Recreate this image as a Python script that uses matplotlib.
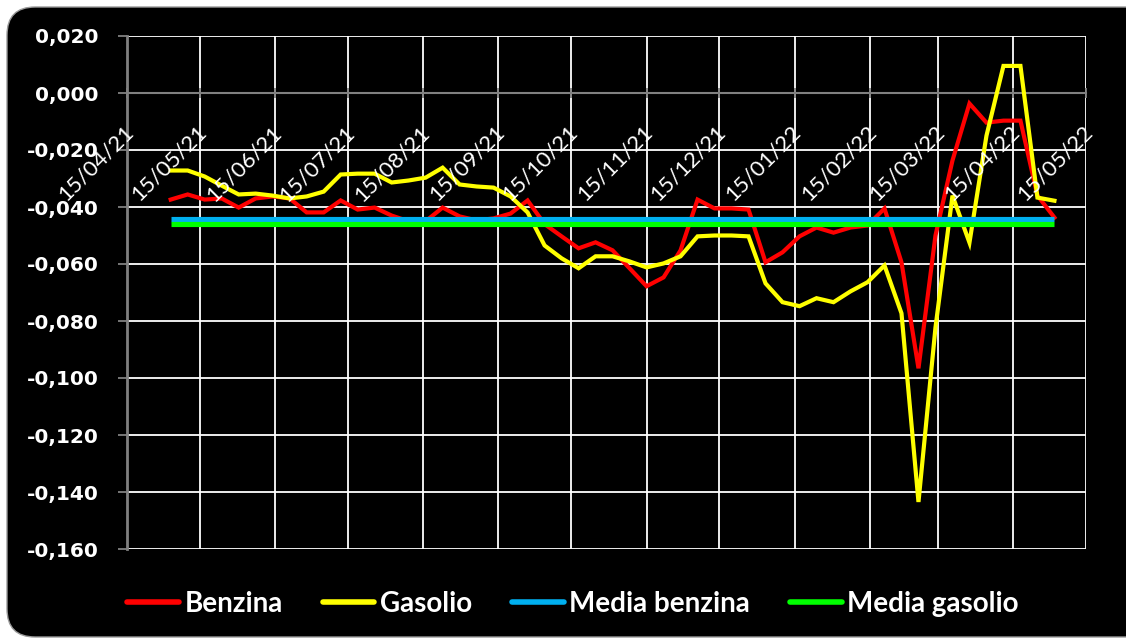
import matplotlib
matplotlib.use("Agg")
import matplotlib.pyplot as plt
from matplotlib.patches import FancyBboxPatch
import pandas as pd

# ---------------- data ----------------
start_date = "2021-05-03"
n_weeks = 53

benzina = [-0.0374, -0.0356, -0.0374, -0.0370, -0.0402, -0.0370, -0.0363, -0.0370,
           -0.0419, -0.0419, -0.0377, -0.0409, -0.0402, -0.0430, -0.0450, -0.0450,
           -0.0402, -0.0433, -0.0447, -0.0440, -0.0423, -0.0377, -0.0460, -0.0503,
           -0.0545, -0.0524, -0.0552, -0.0615, -0.0678, -0.0647, -0.0552, -0.0374,
           -0.0405, -0.0405, -0.0409, -0.0594, -0.0559, -0.0503, -0.0472, -0.0490,
           -0.0472, -0.0465, -0.0405, -0.0594, -0.0966, -0.0500, -0.0237, -0.0037,
           -0.0104, -0.0097, -0.0097, -0.0360, -0.0437]

gasolio = [-0.0272, -0.0272, -0.0293, -0.0325, -0.0356, -0.0353, -0.0360, -0.0370,
           -0.0363, -0.0346, -0.0286, -0.0283, -0.0283, -0.0314, -0.0307, -0.0297,
           -0.0262, -0.0321, -0.0328, -0.0332, -0.0363, -0.0419, -0.0535, -0.0580,
           -0.0615, -0.0573, -0.0573, -0.0591, -0.0612, -0.0598, -0.0573, -0.0503,
           -0.0500, -0.0500, -0.0503, -0.0668, -0.0734, -0.0748, -0.0720, -0.0734,
           -0.0696, -0.0664, -0.0605, -0.0773, -0.1435, -0.0823, -0.0360, -0.0525,
           -0.0150, 0.0095, 0.0095, -0.0367, -0.0378]

media_benzina = -0.0442
media_gasolio = -0.0460

series_names = ["Benzina", "Gasolio", "Media benzina", "Media gasolio"]
series_colors = ["#FF0000", "#FFFF00", "#00B0F0", "#00FF00"]

y_ticks = [0.020, 0.000, -0.020, -0.040, -0.060, -0.080, -0.100, -0.120, -0.140, -0.160]
x_tick_dates = pd.date_range("2021-04-01", "2022-05-01", freq="MS") + pd.Timedelta(days=14)
x_tick_labels = [d.strftime("%d/%m/%y") for d in x_tick_dates]

dates = pd.date_range(start_date, periods=n_weeks, freq="7D")

# ---------------- figure ----------------
W, H = 1126, 639
fig = plt.figure(figsize=(W / 100, H / 100), dpi=100, facecolor="white")

bg = FancyBboxPatch((7 / W, 2 / H), (1160 - 7) / W, (632 - 2) / H,
                    boxstyle="round,pad=0,rounding_size=0.025",
                    transform=fig.transFigure, facecolor="black",
                    edgecolor="#9a9a9a", linewidth=1.0, zorder=-10,
                    mutation_aspect=W / H)
fig.patches.append(bg)

ax = fig.add_axes([127 / W, (H - 549) / H, (1086 - 127) / W, (549 - 36) / H])
ax.set_facecolor("black")

ax.plot(dates, benzina, color=series_colors[0], lw=3.0, label=series_names[0],
        solid_joinstyle="miter", zorder=3)
ax.plot(dates, gasolio, color=series_colors[1], lw=3.0, label=series_names[1],
        solid_joinstyle="miter", zorder=4)
ax.plot(dates, [media_benzina] * n_weeks, color=series_colors[2], lw=3.7,
        label=series_names[2], solid_capstyle="butt", zorder=5)
ax.plot(dates, [media_gasolio] * n_weeks, color=series_colors[3], lw=3.7,
        label=series_names[3], solid_capstyle="butt", zorder=5)

ax.set_xlim(pd.Timestamp("2021-04-15"), pd.Timestamp("2022-05-15"))
ax.set_ylim(-0.160, 0.020)

ax.set_yticks(y_ticks)
ax.set_yticklabels([f"{v:.3f}".replace(".", ",").replace("-0,000", "0,000") for v in y_ticks],
                   fontsize=14.5, fontweight="bold", color="white", family="DejaVu Sans")
ax.tick_params(axis="y", direction="out", length=6.5, width=1.3, color="#808080", pad=14)

ax.set_xticks(x_tick_dates)
ax.tick_params(axis="x", direction="inout", length=7, width=1.3, color="#808080",
               labelbottom=False)
for d, lab in zip(x_tick_dates, x_tick_labels):
    ax.annotate(lab, xy=(d, 0), xycoords="data", xytext=(-4, -29),
                textcoords="offset pixels", rotation=45, ha="right", va="top",
                rotation_mode="anchor", fontsize=16, color="white", family="Lato",
                annotation_clip=False, zorder=6)

ax.grid(True, color="white", lw=1.3, zorder=1)
ax.set_axisbelow(True)

for s in ["top", "right"]:
    ax.spines[s].set_visible(False)
ax.spines["bottom"].set_position(("data", 0))
ax.spines["bottom"].set_color("#808080")
ax.spines["bottom"].set_linewidth(1.5)
ax.spines["bottom"].set_zorder(2)
ax.spines["left"].set_color("#808080")
ax.spines["left"].set_linewidth(2)

leg = fig.legend(loc="center", bbox_to_anchor=(573 / W, (H - 604) / H), ncol=4,
                 frameon=False, handlelength=1.85, handletextpad=0.2,
                 columnspacing=1.45,
                 prop={"family": ["Lato", "DejaVu Sans"],
                       "weight": "bold", "size": 20})
for t in leg.get_texts():
    t.set_color("white")
for h in leg.get_lines():
    h.set_linewidth(4)
    h.set_solid_capstyle("round")

fig.savefig("out.png", dpi=100, facecolor="white")
